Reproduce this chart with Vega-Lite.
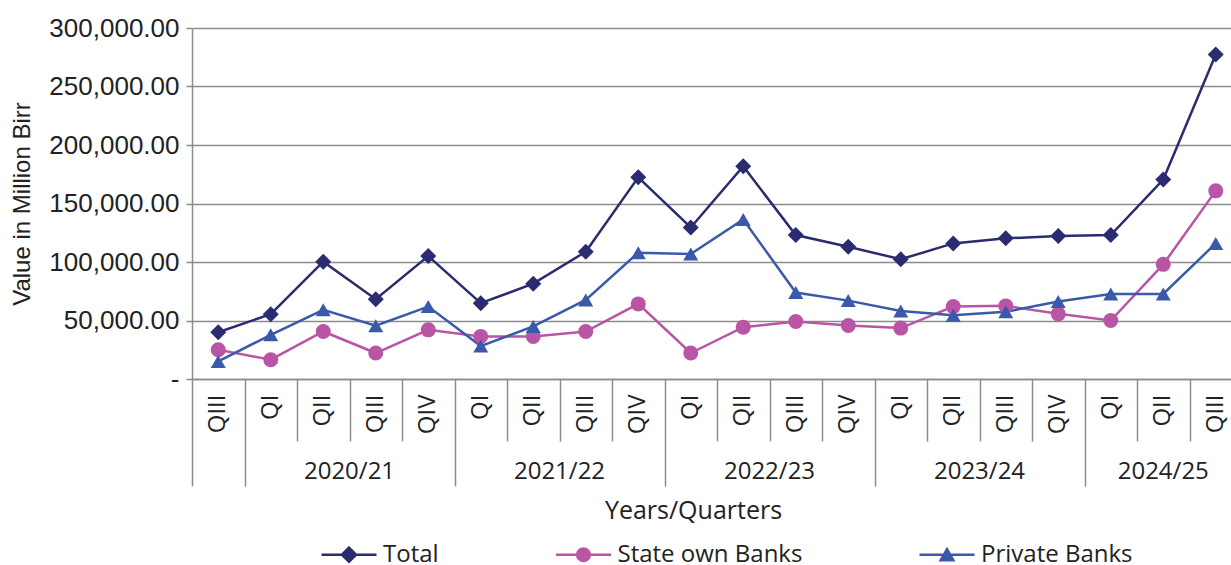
{
  "$schema": "https://vega.github.io/schema/vega-lite/v6.json",
  "width": 1039,
  "height": 351,
  "autosize": {"type": "none"},
  "padding": {"left": 192, "top": 28, "right": 0, "bottom": 186},
  "background": "white",
  "config": {
    "view": {"stroke": null},
    "font": "Open Sans",
    "axis": {"titleFontWeight": "normal"}
  },
  "data": {
    "values": [
      {"period": "2019/20 QIII", "Total": 40000, "State own Banks": 25000, "Private Banks": 15000},
      {"period": "2020/21 QI", "Total": 55400, "State own Banks": 16500, "Private Banks": 37800},
      {"period": "2020/21 QII", "Total": 100300, "State own Banks": 40600, "Private Banks": 59100},
      {"period": "2020/21 QIII", "Total": 68200, "State own Banks": 22200, "Private Banks": 45500},
      {"period": "2020/21 QIV", "Total": 105100, "State own Banks": 42000, "Private Banks": 61900},
      {"period": "2021/22 QI", "Total": 64800, "State own Banks": 36400, "Private Banks": 28100},
      {"period": "2021/22 QII", "Total": 81500, "State own Banks": 36400, "Private Banks": 44900},
      {"period": "2021/22 QIII", "Total": 108800, "State own Banks": 40600, "Private Banks": 67600},
      {"period": "2021/22 QIV", "Total": 172400, "State own Banks": 64200, "Private Banks": 108000},
      {"period": "2022/23 QI", "Total": 129500, "State own Banks": 22200, "Private Banks": 106800},
      {"period": "2022/23 QII", "Total": 181800, "State own Banks": 44300, "Private Banks": 136400},
      {"period": "2022/23 QIII", "Total": 123000, "State own Banks": 49100, "Private Banks": 73900},
      {"period": "2022/23 QIV", "Total": 113100, "State own Banks": 45700, "Private Banks": 67000},
      {"period": "2023/24 QI", "Total": 102300, "State own Banks": 43500, "Private Banks": 58200},
      {"period": "2023/24 QII", "Total": 115900, "State own Banks": 61900, "Private Banks": 54500},
      {"period": "2023/24 QIII", "Total": 120200, "State own Banks": 62500, "Private Banks": 57400},
      {"period": "2023/24 QIV", "Total": 122200, "State own Banks": 55700, "Private Banks": 66200},
      {"period": "2024/25 QI", "Total": 123000, "State own Banks": 50000, "Private Banks": 72700},
      {"period": "2024/25 QII", "Total": 170500, "State own Banks": 98000, "Private Banks": 72700},
      {"period": "2024/25 QIII", "Total": 277300, "State own Banks": 160800, "Private Banks": 115900}
    ]
  },
  "transform": [
    {"fold": ["Total", "State own Banks", "Private Banks"], "as": ["series", "value"]}
  ],
  "layer": [
    {
      "mark": {"type": "line", "strokeWidth": 2.5},
      "encoding": {
        "x": {
          "field": "period", "type": "ordinal", "sort": null,
          "scale": {"type": "band", "paddingInner": 0, "paddingOuter": 0, "range": [0, 1050]},
          "axis": {
            "orient": "bottom",
            "title": null, "labelAngle": -90, "labelPadding": 15, "ticks": false, "grid": false,
            "domain": true, "domainColor": "#8c8c8c", "domainWidth": 1.5,
            "labelExpr": "split(datum.value, ' ')[1]",
            "labelFont": "Open Sans", "labelFontSize": 24, "labelColor": "#222222"
          }
        },
        "y": {
          "field": "value", "type": "quantitative",
          "scale": {"domain": [0, 300000], "nice": false},
          "axis": {
            "title": "Value in Million Birr", "titleFont": "Liberation Sans", "titleFontSize": 24,
            "titleFontWeight": "normal", "titleColor": "#222222", "titlePadding": 14,
            "values": [0, 50000, 100000, 150000, 200000, 250000, 300000],
            "labelExpr": "datum.value === 0 ? '-\u00a0\u00a0\u00a0\u00a0' : format(datum.value, ',.2f')",
            "labelFont": "Liberation Sans", "labelFontSize": 26, "labelColor": "#222222", "labelPadding": 7,
            "tickSize": 6, "tickColor": "#8c8c8c", "tickWidth": 1.5,
            "domainColor": "#8c8c8c", "domainWidth": 1.5,
            "grid": true, "gridColor": "#8c8c8c", "gridWidth": 1.5
          }
        },
        "color": {
          "field": "series", "type": "nominal",
          "scale": {"domain": ["Total", "State own Banks", "Private Banks"], "range": ["#2b2c6f", "#b955a4", "#3a59a9"]},
          "legend": {
            "title": null, "orient": "none", "legendX": 140.5, "legendY": 510, "direction": "horizontal",
            "columnPadding": 111.5, "symbolSize": 900, "symbolStrokeWidth": 2.5, "symbolOpacity": 1,
            "labelFont": "Open Sans", "labelFontSize": 24, "labelColor": "#222222", "labelOffset": 17.5,
            "padding": 0, "labelLimit": 400
          }
        }
      }
    },
    {
      "transform": [{"filter": "datum.series === 'Total'"}],
      "mark": {"type": "point", "shape": "diamond", "filled": true, "color": "#2b2c6f", "size": 256, "opacity": 1},
      "encoding": {
        "x": {
          "field": "period", "type": "ordinal", "sort": null,
          "axis": {
            "orient": "bottom",
            "title": null, "labels": false, "domain": false, "grid": false, "ticks": true,
            "tickBand": "extent", "tickColor": "#8c8c8c", "tickWidth": 1.5,
            "tickSize": {"condition": {"test": "datum.extra || datum.value === '2019/20 QIII' || split(datum.value, ' ')[1] === 'QIV'", "value": 107}, "value": 62}
          }
        },
        "y": {"field": "value", "type": "quantitative"}
      }
    },
    {
      "transform": [{"filter": "datum.series === 'State own Banks'"}],
      "mark": {"type": "point", "shape": "circle", "filled": true, "color": "#b955a4", "size": 225, "opacity": 1},
      "encoding": {
        "x": {"field": "period", "type": "ordinal", "sort": null, "axis": null},
        "y": {"field": "value", "type": "quantitative"}
      }
    },
    {
      "transform": [{"filter": "datum.series === 'Private Banks'"}],
      "mark": {"type": "point", "shape": "triangle-up", "filled": true, "color": "#3a59a9", "size": 225, "opacity": 1},
      "encoding": {
        "x": {"field": "period", "type": "ordinal", "sort": null, "axis": null},
        "y": {"field": "value", "type": "quantitative"}
      }
    },
    {
      "transform": [{"filter": "false"}],
      "mark": {"type": "point", "filled": false, "opacity": 1, "strokeWidth": 2.5},
      "encoding": {
        "x": {"field": "period", "type": "ordinal", "sort": null, "axis": null},
        "y": {"field": "value", "type": "quantitative"},
        "color": {"field": "series", "type": "nominal"},
        "shape": {
          "field": "series", "type": "nominal",
          "scale": {
            "domain": ["Total", "State own Banks", "Private Banks"],
            "range": [
              "M-1.833,0L1.833,0M0,-0.477L0.477,0L0,0.477L-0.477,0ZM0,-0.312L0.312,0L0,0.312L-0.312,0ZM0,-0.147L0.147,0L0,0.147L-0.147,0Z",
              "M-1.833,0L1.833,0M0.422,0A0.422,0.422 0 1,1 -0.422,0A0.422,0.422 0 1,1 0.422,0ZM0.257,0A0.257,0.257 0 1,1 -0.257,0A0.257,0.257 0 1,1 0.257,0ZM0.092,0A0.092,0.092 0 1,1 -0.092,0A0.092,0.092 0 1,1 0.092,0Z",
              "M-1.833,0L1.833,0M0,-0.367L0.422,0.367L-0.422,0.367ZM0,-0.123L0.211,0.244L-0.211,0.244ZM0,0.073L0.042,0.147L-0.042,0.147Z"
            ]
          },
          "legend": {
            "title": null, "orient": "none", "legendX": 140.5, "legendY": 510, "direction": "horizontal",
            "columnPadding": 111.5, "symbolSize": 900, "symbolStrokeWidth": 2.5, "symbolOpacity": 1,
            "labelFont": "Open Sans", "labelFontSize": 24, "labelColor": "#222222", "labelOffset": 17.5,
            "padding": 0, "labelLimit": 400
          }
        }
      }
    },
    {
      "mark": {"type": "text"},
      "encoding": {
        "x": {
          "field": "period", "type": "ordinal", "sort": null,
          "axis": {
            "orient": "bottom",
            "title": "Years/Quarters",
            "values": ["2020/21 QIII", "2021/22 QIII", "2022/23 QIII", "2023/24 QIII"],
            "labelOffset": {"expr": "-bandwidth('x') / 2"},
            "ticks": false, "domain": false, "grid": false, "labelAngle": 0,
            "labelPadding": 80, "labelExpr": "split(datum.value, ' ')[0]",
            "labelFont": "Open Sans", "labelFontSize": 24, "labelColor": "#222222",
            "titleFont": "Open Sans", "titleFontSize": 25, "titleFontWeight": "normal",
            "titleColor": "#222222", "titlePadding": 15, "titleX": 501
          }
        }
      }
    },
    {
      "mark": {"type": "text"},
      "encoding": {
        "x": {
          "field": "period", "type": "ordinal", "sort": null,
          "axis": {
            "orient": "bottom",
            "title": null,
            "values": ["2024/25 QII"],
            "ticks": false, "domain": false, "grid": false, "labelAngle": 0,
            "labelPadding": 80, "labelExpr": "split(datum.value, ' ')[0]",
            "labelFont": "Open Sans", "labelFontSize": 24, "labelColor": "#222222"
          }
        }
      }
    }
  ],
  "resolve": {"axis": {"x": "independent"}}
}
